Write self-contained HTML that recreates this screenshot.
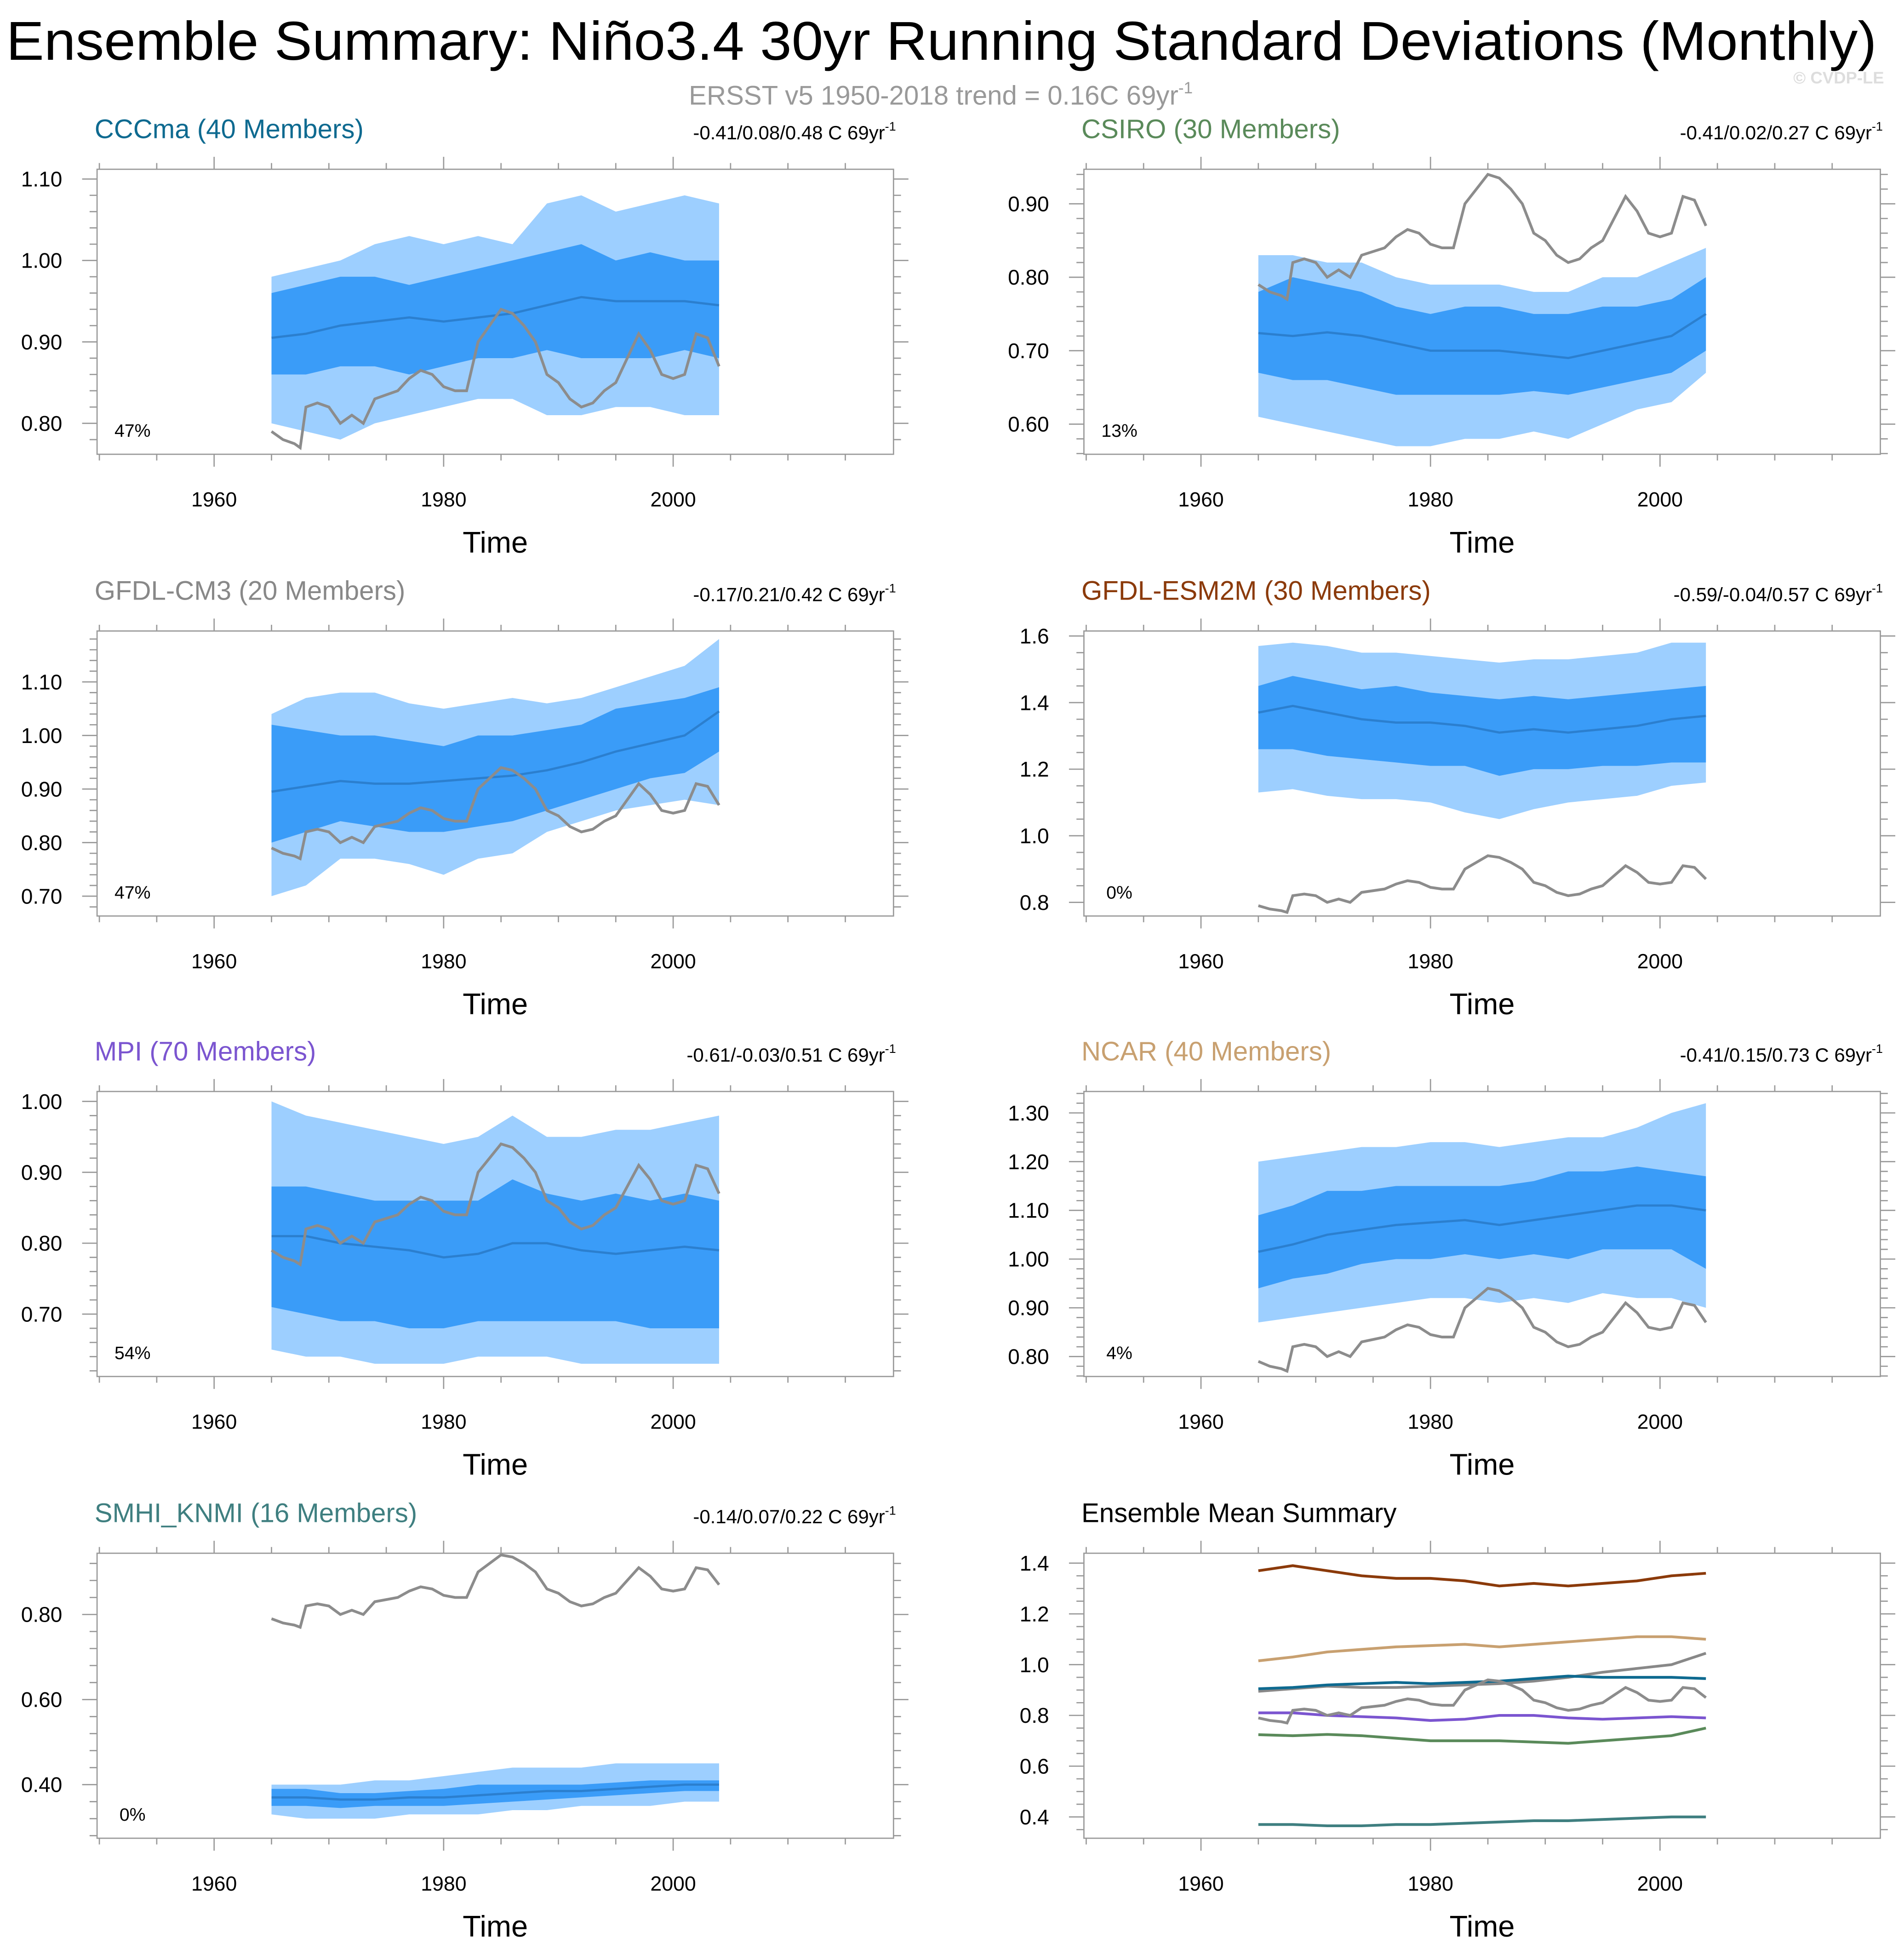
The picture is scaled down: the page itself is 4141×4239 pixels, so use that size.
<!DOCTYPE html>
<html><head><meta charset="utf-8"><style>
html,body{margin:0;padding:0;background:#fff}
svg{display:block;font-family:"Liberation Sans",Arial,sans-serif}
</style></head><body>
<svg id="chart" width="4141" height="4239" viewBox="0 0 1530 1566" preserveAspectRatio="none" xmlns="http://www.w3.org/2000/svg">
<text x="5" y="48" font-size="44" textLength="1503" lengthAdjust="spacingAndGlyphs" fill="#000">Ensemble Summary: Niño3.4 30yr Running Standard Deviations (Monthly)</text>
<text x="756" y="84" font-size="21.5" text-anchor="middle" fill="#999">ERSST v5 1950-2018 trend = 0.16C 69yr<tspan font-size="13" dy="-9">-1</tspan></text>
<text x="1514" y="67" font-size="13.5" text-anchor="end" fill="#ddd" font-weight="bold">© CVDP-LE</text>
<g id="panels"></g>
</svg>
<script>
const years = [1965,1968,1971,1974,1977,1980,1983,1986,1989,1992,1995,1998,2001,2004];
const obsYears = [1965,1966,1967,1967.5,1968,1969,1970,1971,1972,1973,1974,1975,1976,1977,1978,1979,1980,1981,1982,1983,1984,1985,1986,1987,1988,1989,1990,1991,1992,1993,1994,1995,1996,1997,1998,1999,2000,2001,2002,2003,2004];
const obsVals = [0.79,0.78,0.775,0.77,0.82,0.825,0.82,0.80,0.81,0.80,0.83,0.835,0.84,0.855,0.865,0.86,0.845,0.84,0.84,0.90,0.92,0.94,0.935,0.92,0.90,0.86,0.85,0.83,0.82,0.825,0.84,0.85,0.88,0.91,0.89,0.86,0.855,0.86,0.91,0.905,0.87];

const cccmaMean=[0.905,0.91,0.92,0.925,0.93,0.925,0.93,0.935,0.945,0.955,0.95,0.95,0.95,0.945];
const cccmaInHi=[0.96,0.97,0.98,0.98,0.97,0.98,0.99,1.0,1.01,1.02,1.0,1.01,1.0,1.0];
const cccmaInLo=[0.86,0.86,0.87,0.87,0.86,0.87,0.88,0.88,0.89,0.88,0.88,0.88,0.89,0.88];
const cccmaOutHi=[0.98,0.99,1.0,1.02,1.03,1.02,1.03,1.02,1.07,1.08,1.06,1.07,1.08,1.07];
const cccmaOutLo=[0.80,0.79,0.78,0.80,0.81,0.82,0.83,0.83,0.81,0.81,0.82,0.82,0.81,0.81];

const csiroMean=[0.724,0.72,0.725,0.72,0.71,0.70,0.70,0.70,0.695,0.69,0.70,0.71,0.72,0.75];
const csiroInHi=[0.78,0.80,0.79,0.78,0.76,0.75,0.76,0.76,0.75,0.75,0.76,0.76,0.77,0.80];
const csiroInLo=[0.67,0.66,0.66,0.65,0.64,0.64,0.64,0.64,0.645,0.64,0.65,0.66,0.67,0.70];
const csiroOutHi=[0.83,0.83,0.82,0.82,0.80,0.79,0.79,0.79,0.78,0.78,0.80,0.80,0.82,0.84];
const csiroOutLo=[0.61,0.60,0.59,0.58,0.57,0.57,0.58,0.58,0.59,0.58,0.60,0.62,0.63,0.67];

const cm3Mean=[0.895,0.905,0.915,0.91,0.91,0.915,0.92,0.925,0.935,0.95,0.97,0.985,1.0,1.045];
const cm3InHi=[1.02,1.01,1.0,1.0,0.99,0.98,1.0,1.0,1.01,1.02,1.05,1.06,1.07,1.09];
const cm3InLo=[0.80,0.82,0.84,0.83,0.82,0.82,0.83,0.84,0.86,0.88,0.90,0.92,0.93,0.97];
const cm3OutHi=[1.04,1.07,1.08,1.08,1.06,1.05,1.06,1.07,1.06,1.07,1.09,1.11,1.13,1.18];
const cm3OutLo=[0.70,0.72,0.77,0.77,0.76,0.74,0.77,0.78,0.82,0.84,0.86,0.87,0.88,0.87];

const esmMean=[1.37,1.39,1.37,1.35,1.34,1.34,1.33,1.31,1.32,1.31,1.32,1.33,1.35,1.36];
const esmInHi=[1.45,1.48,1.46,1.44,1.45,1.43,1.42,1.41,1.42,1.41,1.42,1.43,1.44,1.45];
const esmInLo=[1.26,1.26,1.24,1.23,1.22,1.21,1.21,1.18,1.20,1.20,1.21,1.21,1.22,1.22];
const esmOutHi=[1.57,1.58,1.57,1.55,1.55,1.54,1.53,1.52,1.53,1.53,1.54,1.55,1.58,1.58];
const esmOutLo=[1.13,1.14,1.12,1.11,1.11,1.10,1.07,1.05,1.08,1.10,1.11,1.12,1.15,1.16];

const mpiMean=[0.81,0.81,0.80,0.795,0.79,0.78,0.785,0.80,0.80,0.79,0.785,0.79,0.795,0.79];
const mpiInHi=[0.88,0.88,0.87,0.86,0.86,0.86,0.86,0.89,0.87,0.86,0.87,0.86,0.87,0.86];
const mpiInLo=[0.71,0.70,0.69,0.69,0.68,0.68,0.69,0.69,0.69,0.69,0.69,0.68,0.68,0.68];
const mpiOutHi=[1.0,0.98,0.97,0.96,0.95,0.94,0.95,0.98,0.95,0.95,0.96,0.96,0.97,0.98];
const mpiOutLo=[0.65,0.64,0.64,0.63,0.63,0.63,0.64,0.64,0.64,0.63,0.63,0.63,0.63,0.63];

const ncarMean=[1.015,1.03,1.05,1.06,1.07,1.075,1.08,1.07,1.08,1.09,1.10,1.11,1.11,1.10];
const ncarInHi=[1.09,1.11,1.14,1.14,1.15,1.15,1.15,1.15,1.16,1.18,1.18,1.19,1.18,1.17];
const ncarInLo=[0.94,0.96,0.97,0.99,1.00,1.00,1.01,1.00,1.01,1.00,1.02,1.02,1.02,0.98];
const ncarOutHi=[1.20,1.21,1.22,1.23,1.23,1.24,1.24,1.23,1.24,1.25,1.25,1.27,1.30,1.32];
const ncarOutLo=[0.87,0.88,0.89,0.90,0.91,0.92,0.92,0.91,0.92,0.91,0.93,0.92,0.92,0.90];

const smhiMean=[0.37,0.37,0.365,0.365,0.37,0.37,0.375,0.38,0.385,0.385,0.39,0.395,0.40,0.40];
const smhiInHi=[0.39,0.39,0.38,0.38,0.385,0.39,0.40,0.40,0.40,0.40,0.405,0.41,0.41,0.41];
const smhiInLo=[0.35,0.35,0.345,0.35,0.35,0.35,0.355,0.36,0.365,0.37,0.375,0.38,0.385,0.385];
const smhiOutHi=[0.40,0.40,0.40,0.41,0.41,0.42,0.43,0.44,0.44,0.44,0.45,0.45,0.45,0.45];
const smhiOutLo=[0.33,0.32,0.32,0.32,0.33,0.33,0.33,0.34,0.34,0.35,0.35,0.35,0.36,0.36];

const xTicks=[1960,1980,2000];
const cccmaTicks=[0.80,0.90,1.00,1.10];
const csiroTicks=[0.60,0.70,0.80,0.90];
const cm3Ticks=[0.70,0.80,0.90,1.00,1.10];
const esmTicks=[0.8,1.0,1.2,1.4,1.6];
const mpiTicks=[0.70,0.80,0.90,1.00];
const ncarTicks=[0.80,0.90,1.00,1.10,1.20,1.30];
const smhiTicks=[0.40,0.60,0.80];
const sumTicks=[0.4,0.6,0.8,1.0,1.2,1.4];

const NS="http://www.w3.org/2000/svg";
const root=document.getElementById('panels');
function mk(tag,attrs,parent){const e=document.createElementNS(NS,tag);for(const k in attrs)e.setAttribute(k,attrs[k]);(parent||root).appendChild(e);return e;}

const W=640,H=229;
const panels=[
 {key:'cccma',title:'CCCma (40 Members)',color:'#0e6a90',stats:'-0.41/0.08/0.48 C 69yr',pct:'47%',x0:78,y0:136,ymin:0.762,ymax:1.112,ticks:cccmaTicks,dec:2,minor:0.02,d:[cccmaMean,cccmaInHi,cccmaInLo,cccmaOutHi,cccmaOutLo]},
 {key:'csiro',title:'CSIRO (30 Members)',color:'#5a8a5a',stats:'-0.41/0.02/0.27 C 69yr',pct:'13%',x0:871,y0:136,ymin:0.559,ymax:0.947,ticks:csiroTicks,dec:2,minor:0.02,d:[csiroMean,csiroInHi,csiroInLo,csiroOutHi,csiroOutLo]},
 {key:'gfdl-cm3',title:'GFDL-CM3 (20 Members)',color:'#888888',stats:'-0.17/0.21/0.42 C 69yr',pct:'47%',x0:78,y0:507,ymin:0.663,ymax:1.195,ticks:cm3Ticks,dec:2,minor:0.02,d:[cm3Mean,cm3InHi,cm3InLo,cm3OutHi,cm3OutLo]},
 {key:'gfdl-esm2m',title:'GFDL-ESM2M (30 Members)',color:'#8b3a0a',stats:'-0.59/-0.04/0.57 C 69yr',pct:'0%',x0:871,y0:507,ymin:0.759,ymax:1.615,ticks:esmTicks,dec:1,minor:0.05,d:[esmMean,esmInHi,esmInLo,esmOutHi,esmOutLo]},
 {key:'mpi',title:'MPI (70 Members)',color:'#7b55d0',stats:'-0.61/-0.03/0.51 C 69yr',pct:'54%',x0:78,y0:877,ymin:0.612,ymax:1.014,ticks:mpiTicks,dec:2,minor:0.02,d:[mpiMean,mpiInHi,mpiInLo,mpiOutHi,mpiOutLo]},
 {key:'ncar',title:'NCAR (40 Members)',color:'#c8a070',stats:'-0.41/0.15/0.73 C 69yr',pct:'4%',x0:871,y0:877,ymin:0.759,ymax:1.344,ticks:ncarTicks,dec:2,minor:0.02,d:[ncarMean,ncarInHi,ncarInLo,ncarOutHi,ncarOutLo]},
 {key:'smhi-knmi',title:'SMHI_KNMI (16 Members)',color:'#3f7f80',stats:'-0.14/0.07/0.22 C 69yr',pct:'0%',x0:78,y0:1248,ymin:0.274,ymax:0.944,ticks:smhiTicks,dec:2,minor:0.04,d:[smhiMean,smhiInHi,smhiInLo,smhiOutHi,smhiOutLo]},
 {key:'summary',title:'Ensemble Mean Summary',color:'#000',stats:null,pct:null,x0:871,y0:1248,ymin:0.316,ymax:1.439,ticks:sumTicks,dec:1,minor:0.05,d:null}
];
const summaryMeans=[[esmMean,'#8b3a0a'],[ncarMean,'#c8a070'],[cm3Mean,'#888888'],[cccmaMean,'#0e6a90'],[mpiMean,'#7b55d0'],[csiroMean,'#5a8a5a'],[smhiMean,'#3f7f80']];

panels.forEach(p=>{
 const g=mk('g',{});
 
 
 const xs=v=>p.x0+(v-1949.8)/69.4*W;
 const ys=v=>p.y0+(p.ymax-v)/(p.ymax-p.ymin)*H;
 const t=mk('text',{x:p.x0-2,y:p.y0-25,'font-size':21.5,fill:p.color},g);t.textContent=p.title;
 
 
 if(p.stats){const s=mk('text',{x:p.x0+642,y:p.y0-24,'font-size':15.5,'text-anchor':'end',fill:'#000'},g);
  
  
  s.textContent=p.stats;const sp=mk('tspan',{'font-size':10,dy:-7},s);sp.textContent='-1';}
 const clip='clip-'+p.key;
 const cp=mk('clipPath',{id:clip},g);mk('rect',{x:p.x0,y:p.y0,width:W,height:H},cp);
 const pg=mk('g',{'clip-path':'url(#'+clip+')'},g);
 const line=(arr,xarr)=>arr.map((v,i)=>(i?'L':'M')+xs(xarr[i]).toFixed(2)+' '+ys(v).toFixed(2)).join(' ');
 const band=(hi,lo)=>line(hi,years)+' '+lo.map((v,i)=>'L'+xs(years[lo.length-1-i]).toFixed(2)+' '+ys(lo[lo.length-1-i]).toFixed(2)).join(' ')+' Z';
 if(p.d){
  const [m,ih,il,oh,ol]=p.d;
  const ob=mk('path',{d:band(oh,ol),fill:'#9dcfff'},pg);
  
  
  const ib=mk('path',{d:band(ih,il),fill:'#3a9cf8'},pg);
  
  
  const ml=mk('path',{d:line(m,years),fill:'none',stroke:'#2b7fcf','stroke-width':1.8},pg);
  
  
 } else {
  summaryMeans.forEach(([arr,c])=>{const l=mk('path',{d:line(arr,years),fill:'none',stroke:c,'stroke-width':2.2},pg);
   
   });
 }
 const obs=mk('path',{d:line(obsVals,obsYears),fill:'none',stroke:'#8c8c8c','stroke-width':2.2},pg);
 
 
 const box=mk('rect',{x:p.x0,y:p.y0,width:W,height:H,fill:'none',stroke:'#999','stroke-width':1},g);
 
 
 for(let yr=1950;yr<=2015;yr+=5){const x=xs(yr);const L=(yr%20===0)?10:5;
  mk('line',{x1:x,x2:x,y1:p.y0+H,y2:p.y0+H+L,stroke:'#999'},g);
  mk('line',{x1:x,x2:x,y1:p.y0,y2:p.y0-L,stroke:'#999'},g);}
 xTicks.forEach(v=>{const tl=mk('text',{x:xs(v),y:p.y0+H+42,'font-size':16.5,'text-anchor':'middle'},g);tl.textContent=v;
  
  });
 const xt=mk('text',{x:p.x0+320,y:p.y0+H+79,'font-size':24,'text-anchor':'middle'},g);xt.textContent='Time';
 
 
 const start=Math.ceil(p.ymin/p.minor-1e-6)*p.minor;
 for(let v=start;v<=p.ymax+1e-9;v+=p.minor){const y=ys(v);
  const isMaj=p.ticks.some(tv=>Math.abs(tv-v)<1e-6);const L=isMaj?12:6;
  mk('line',{x1:p.x0,x2:p.x0-L,y1:y,y2:y,stroke:'#999'},g);
  mk('line',{x1:p.x0+W,x2:p.x0+W+L,y1:y,y2:y,stroke:'#999'},g);}
 p.ticks.forEach(v=>{const tl=mk('text',{x:p.x0-28,y:ys(v)+6,'font-size':17,'text-anchor':'end'},g);tl.textContent=v.toFixed(p.dec);
  
  });
 if(p.pct){const pc=mk('text',{x:p.x0+(p.pct.length>2?14:18),y:p.y0+215,'font-size':14.5},g);pc.textContent=p.pct;
  
  }
});
</script>
</body></html>
